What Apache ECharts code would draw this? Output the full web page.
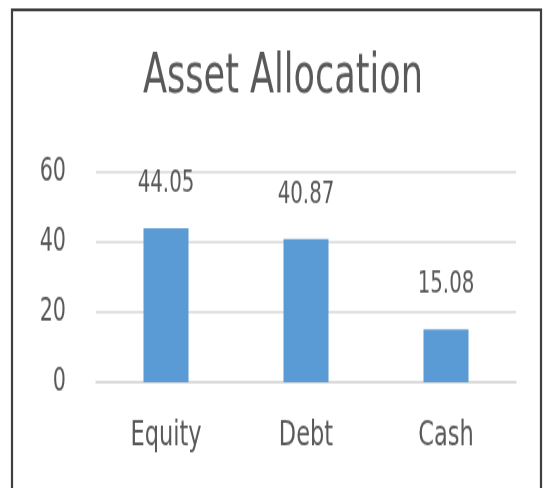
<!DOCTYPE html>
<html>
<head>
<meta charset="utf-8">
<script src="https://cdn.jsdelivr.net/npm/echarts@6/dist/echarts.min.js"></script>
<style>
html,body{margin:0;padding:0;background:#fff;}
#wrap{width:544px;height:488px;position:relative;}
#chart{position:absolute;left:0;top:0;width:544px;height:349px;transform:scaleY(1.4);transform-origin:0 0;}
</style>
</head>
<body>
<div id="wrap"><div id="chart"></div></div>
<script>
const titleText = 'Asset Allocation';
const categories = ['Equity', 'Debt', 'Cash'];
const values = [44.05, 40.87, 15.08];
const yTicks = [0, 20, 40, 60];

const FONT = "'DejaVu Sans Condensed', 'DejaVu Sans', sans-serif";
const TEXT = '#595959';

const chart = echarts.init(document.getElementById('chart'), null, {renderer: 'canvas'});
chart.setOption({
  animation: false,
  backgroundColor: '#ffffff',
  title: {
    text: titleText,
    left: 138,
    top: 31.5,
    textStyle: {fontFamily: FONT, fontSize: 39, fontWeight: 'normal', color: TEXT}
  },
  graphic: [{
    type: 'rect',
    shape: {x: 12, y: 7, width: 529, height: 400},
    style: {fill: 'none', stroke: '#3f3f3f', lineWidth: 2.2},
    silent: true
  }],
  grid: {left: 96, right: 28, top: 123, bottom: 76, containLabel: false},
  xAxis: {
    type: 'category',
    data: categories,
    axisLine: {show: true, lineStyle: {color: '#d9d9d9', width: 1.5}},
    axisTick: {show: false},
    axisLabel: {fontFamily: FONT, fontSize: 25, color: TEXT, margin: 26}
  },
  yAxis: {
    type: 'value',
    min: yTicks[0],
    max: yTicks[yTicks.length - 1],
    interval: yTicks[1] - yTicks[0],
    axisLine: {show: false},
    axisTick: {show: false},
    splitLine: {lineStyle: {color: '#d9d9d9', width: 1.5}},
    axisLabel: {fontFamily: FONT, fontSize: 23, color: TEXT, margin: 30}
  },
  series: [{
    type: 'bar',
    data: values,
    barWidth: 45,
    itemStyle: {color: '#5b9bd5'},
    label: {
      show: true,
      position: 'top',
      distance: 21,
      fontFamily: FONT,
      fontSize: 22,
      color: TEXT,
      formatter: p => p.value.toFixed(2)
    }
  }]
});
</script>
</body>
</html>
